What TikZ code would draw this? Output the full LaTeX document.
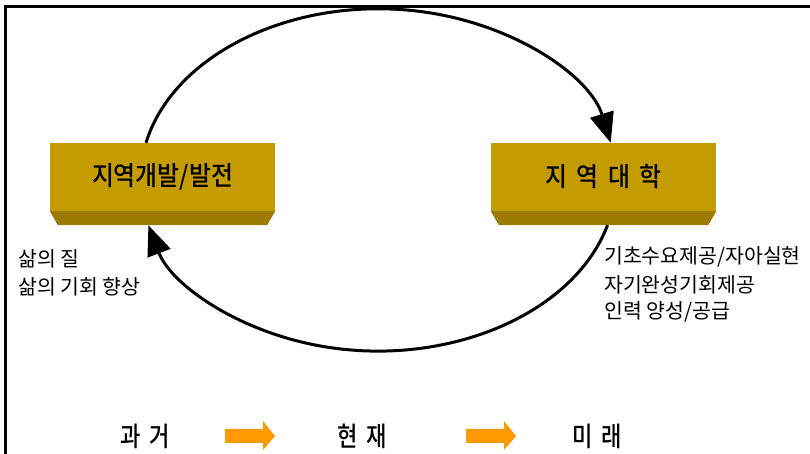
\documentclass[tikz,border=0pt]{standalone}
\usepackage{fontspec}
\setmainfont{Noto Sans CJK KR}
\newfontfamily\boxfont[FakeStretch=0.9,WordSpace=1.8]{Noto Sans CJK KR Medium}
\newfontfamily\erafont[FakeStretch=0.82,WordSpace=1.8]{Noto Sans CJK KR Medium}
\usetikzlibrary{arrows.meta}
\definecolor{gold}{HTML}{C49C00}
\definecolor{goldD}{HTML}{9C7B00}
\definecolor{orangeA}{HTML}{FF9900}
\tikzset{
  box/.style={fill=gold, draw=none, minimum width=225pt, minimum height=68pt, inner sep=0pt, font=\boxfont\fontsize{26.5}{30}\selectfont},
  bevel/.style={fill=goldD, draw=none},
  cyc/.style={line width=3pt, -{Triangle[length=30pt,width=24pt]}},
  note/.style={anchor=west, inner sep=0pt, font=\fontsize{20.5}{24}\selectfont},
  era/.style={inner sep=0pt, font=\erafont\fontsize{27}{30}\selectfont},
  flow/.style={fill=orangeA, draw=none}
}
\begin{document}
\begin{tikzpicture}[x=1pt,y=1pt]
\useasboundingbox (0,0) rectangle (810,454);
% frame
\draw[line width=3pt] (5.5,0) -- (5.5,447.5) -- (810,447.5);
% boxes
\node[box] (lbox) at (162.5,277) {지역개발/발전};
\node[box] (rbox) at (603.5,277) {지 역 대 학};
\fill[bevel] (lbox.south west) -- (lbox.south east) -- ([xshift=-8pt,yshift=-14pt]lbox.south east) -- ([xshift=8pt,yshift=-14pt]lbox.south west) -- cycle;
\fill[bevel] (rbox.south west) -- (rbox.south east) -- ([xshift=-8pt,yshift=-14pt]rbox.south east) -- ([xshift=8pt,yshift=-14pt]rbox.south west) -- cycle;
% cycle arcs
\draw[cyc] ([xshift=-16.5pt]lbox.north) arc[start angle=167.5, end angle=12.5, x radius=238pt, y radius=171pt];
\draw[cyc] ([xshift=4pt,yshift=-14pt]rbox.south) arc[start angle=-15.3, end angle=-164.7, x radius=238pt, y radius=171pt];
% notes
\node[note] (l1) at (18,195) {삶의 질};
\node[note] (l2) at (18,167) {삶의 기회 향상};
\node[note] (r1) at (604,197) {기초수요제공/자아실현};
\node[note] (r2) at (604,169) {자기완성기회제공};
\node[note] (r3) at (604,142) {인력 양성/공급};
% timeline
\node[era] (past) at (145,18) {과 거};
\node[era] (now) at (362,18) {현 재};
\node[era] (fut) at (597,18) {미 래};
\fill[flow] (225,11) -- (263,11) -- (263,4) -- (275,18) -- (263,33) -- (263,25) -- (225,25) -- cycle;
\fill[flow] (466,11) -- (504,11) -- (504,4) -- (516,18) -- (504,33) -- (504,25) -- (466,25) -- cycle;
\end{tikzpicture}
\end{document}
